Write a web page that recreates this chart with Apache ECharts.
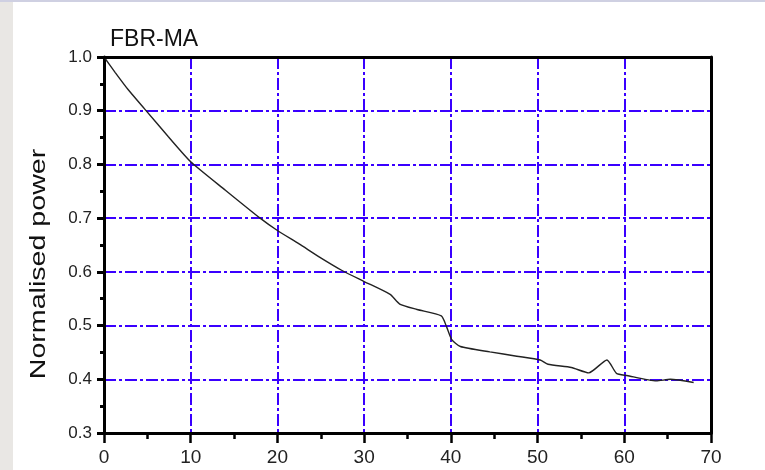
<!DOCTYPE html>
<html><head><meta charset="utf-8">
<script src="https://cdn.jsdelivr.net/npm/echarts@6/dist/echarts.min.js"></script>
<style>html,body{margin:0;padding:0;background:#fff}#c{width:765px;height:470px}</style>
</head><body><div id="c"></div>
<script>
var xValues = [0, 1.3, 2.8, 4.7, 7.4, 10, 14, 18, 20, 22.5, 24.9, 27.4, 30, 33, 34.1, 36.1, 38.9, 39.5, 40.1, 41.1, 44.5, 47.6, 50.3, 51.2, 53.9, 55.9, 58, 59.1, 60.3, 63.7, 65.3, 68];
var yValues = [1.0, 0.971, 0.939, 0.903, 0.852, 0.805, 0.752, 0.70, 0.677, 0.652, 0.627, 0.603, 0.582, 0.558, 0.540, 0.530, 0.518, 0.498, 0.474, 0.461, 0.451, 0.443, 0.436, 0.428, 0.422, 0.412, 0.436, 0.411, 0.407, 0.397, 0.400, 0.394];
var titleText = 'FBR-MA';
var yName = 'Normalised power';

var data = xValues.map(function (x, i) { return [x, yValues[i]]; });
var chart = echarts.init(document.getElementById('c'), null, {renderer: 'canvas'});
var gridLine = {show: true, lineStyle: {color: '#3a00ff', width: 2, type: [12, 3, 3, 3]}};
var font = 'Liberation Sans';
var borderAxis = {
  axisLine: {show: true, onZero: false, lineStyle: {color: '#000', width: 3}},
  axisTick: {show: false}, axisLabel: {show: false}, splitLine: {show: false}, z: 5
};
chart.setOption({
  animation: false,
  backgroundColor: '#fff',
  graphic: [
    {type: 'rect', shape: {x: 0, y: 0, width: 13, height: 470}, style: {fill: '#e9e7e4'}, z: -10},
    {type: 'rect', shape: {x: 0, y: 0, width: 765, height: 2}, style: {fill: '#cfd0e2'}, z: -10},
    {type: 'text', x: 39, y: 264, rotation: Math.PI / 2, scaleX: 1.3, scaleY: 1,
     style: {text: yName, font: '22px "Liberation Sans"', fill: '#111', textAlign: 'center', textVerticalAlign: 'middle'}}
  ],
  title: {text: titleText, left: 105, top: 23, textStyle: {fontFamily: font, fontSize: 23, fontWeight: 'normal', color: '#111'}},
  grid: {left: 104, right: 54, top: 57, bottom: 37},
  xAxis: [{
    type: 'value', min: 0, max: 70, interval: 10,
    axisLine: {onZero: false, lineStyle: {color: '#000', width: 3}},
    axisTick: {inside: false, length: 10, lineStyle: {color: '#000', width: 2.5}},
    minorTick: {show: true, splitNumber: 2, length: 6, lineStyle: {color: '#000', width: 2.5}},
    axisLabel: {margin: 15, fontFamily: font, fontSize: 19, color: '#222'},
    splitLine: gridLine
  }, Object.assign({type: 'value', min: 0, max: 70, position: 'top'}, borderAxis)],
  yAxis: [{
    type: 'value', min: 0.3, max: 1.0, interval: 0.1,
    axisLine: {onZero: false, lineStyle: {color: '#000', width: 3}},
    axisTick: {inside: false, length: 7, lineStyle: {color: '#000', width: 3}},
    minorTick: {show: true, splitNumber: 2, length: 4, lineStyle: {color: '#000', width: 3}},
    axisLabel: {margin: 12, fontFamily: font, fontSize: 17, color: '#222', formatter: function (v) { return v.toFixed(1); }},
    splitLine: gridLine
  }, Object.assign({type: 'value', min: 0.3, max: 1.0, position: 'right'}, borderAxis)],
  series: [{
    type: 'line', data: data, showSymbol: false, smooth: 0.2,
    lineStyle: {color: '#222', width: 1.4}
  }]
});
</script></body></html>
